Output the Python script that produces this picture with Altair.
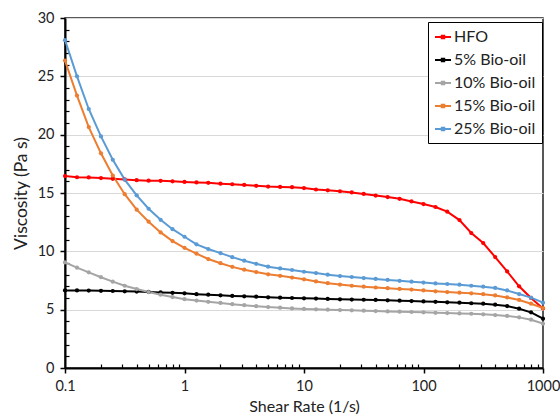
import altair as alt
import pandas as pd

shear_rate = [0.1, 0.126, 0.158, 0.2, 0.251, 0.316, 0.398, 0.501, 0.631, 0.794,
              1, 1.26, 1.58, 2, 2.51, 3.16, 3.98, 5.01, 6.31, 7.94,
              10, 12.6, 15.8, 20, 25.1, 31.6, 39.8, 50.1, 63.1, 79.4,
              100, 126, 158, 200, 251, 316, 398, 501, 631, 794, 1000]

hfo = [16.45, 16.35, 16.33, 16.28, 16.22, 16.16, 16.10, 16.06, 16.04, 16.00,
       15.95, 15.91, 15.87, 15.80, 15.75, 15.69, 15.62, 15.55, 15.52, 15.50,
       15.42, 15.30, 15.23, 15.15, 15.05, 14.92, 14.78, 14.65, 14.50, 14.28,
       14.05, 13.80, 13.40, 12.68, 11.57, 10.71, 9.51, 8.28, 7.00, 6.00, 5.10]
bio5 = [6.65, 6.65, 6.64, 6.62, 6.60, 6.57, 6.55, 6.52, 6.48, 6.44,
        6.40, 6.33, 6.28, 6.23, 6.18, 6.14, 6.11, 6.06, 6.03, 6.00,
        5.97, 5.95, 5.92, 5.89, 5.87, 5.85, 5.83, 5.80, 5.77, 5.74,
        5.71, 5.67, 5.63, 5.60, 5.55, 5.51, 5.43, 5.31, 5.08, 4.77, 4.23]
bio10 = [9.05, 8.60, 8.20, 7.78, 7.40, 7.05, 6.77, 6.51, 6.28, 6.08,
         5.90, 5.78, 5.67, 5.58, 5.47, 5.38, 5.30, 5.22, 5.17, 5.11,
         5.06, 5.03, 5.00, 4.97, 4.94, 4.91, 4.88, 4.85, 4.83, 4.80,
         4.77, 4.73, 4.71, 4.68, 4.65, 4.60, 4.54, 4.46, 4.34, 4.14, 3.80]
bio15 = [26.35, 23.35, 20.65, 18.40, 16.50, 14.90, 13.57, 12.54, 11.62, 10.88,
         10.30, 9.80, 9.34, 8.98, 8.67, 8.43, 8.22, 8.03, 7.90, 7.75,
         7.60, 7.42, 7.27, 7.15, 7.05, 6.97, 6.90, 6.84, 6.78, 6.72,
         6.65, 6.57, 6.51, 6.46, 6.40, 6.33, 6.22, 6.05, 5.83, 5.51, 5.14]
bio25 = [28.10, 25.00, 22.20, 19.85, 17.85, 16.15, 14.80, 13.65, 12.70, 11.90,
         11.25, 10.60, 10.20, 9.85, 9.50, 9.20, 8.93, 8.68, 8.53, 8.40,
         8.25, 8.14, 8.00, 7.88, 7.80, 7.71, 7.63, 7.55, 7.47, 7.40,
         7.32, 7.25, 7.20, 7.14, 7.05, 6.97, 6.86, 6.65, 6.34, 6.03, 5.60]

series_names = ["HFO", "5% Bio-oil", "10% Bio-oil", "15% Bio-oil", "25% Bio-oil"]
series_colors = ["#FF0000", "#000000", "#A5A5A5", "#ED7D31", "#5B9BD5"]
series_values = [hfo, bio5, bio10, bio15, bio25]

x_major = [0.1, 1, 10, 100, 1000]
x_minor = [m * 10 ** e for e in range(-1, 3) for m in range(2, 10)]
y_major = [0, 5, 10, 15, 20, 25, 30]
y_minor = [v for v in range(0, 31) if v % 5 != 0]

rows = []
for name, vals in zip(series_names, series_values):
    for xv, yv in zip(shear_rate, vals):
        rows.append({"rate": xv, "visc": yv, "series": name})
df = pd.DataFrame(rows)

FONT = "Lato"
color_scale = alt.Scale(domain=series_names, range=series_colors)
x_scale = alt.Scale(type="log", domain=[0.1, 1000], nice=False)
y_scale = alt.Scale(domain=[0, 30], nice=False)

base = alt.Chart(df)

lines = base.mark_line(strokeWidth=2, clip=True).encode(
    x=alt.X("rate:Q", scale=x_scale,
            axis=alt.Axis(values=x_major, format="~g", title="Shear Rate (1/s)",
                          orient="bottom", grid=False, tickSize=5, tickColor="black",
                          tickWidth=1.5, domainColor="black", domainWidth=2,
                          labelFontSize=14.5, labelFont=FONT, labelColor="#222",
                          labelPadding=6, labelOverlap=False, labelBound=False,
                          labelFlush=False,
                          titleFontSize=16, titleFont=FONT, titleFontWeight="normal",
                          titleColor="#222", titlePadding=6)),
    y=alt.Y("visc:Q", scale=y_scale,
            axis=alt.Axis(values=y_major, title="Viscosity (Pa s)", orient="left",
                          grid=True, gridColor="#D9D9D9", gridWidth=1,
                          tickSize=5, tickColor="black", tickWidth=1.5,
                          domainColor="black", domainWidth=2,
                          labelFontSize=14.5, labelFont=FONT, labelColor="#222",
                          labelPadding=6,
                          titleFontSize=17.5, titleFont=FONT, titleFontWeight="normal",
                          titleColor="#222", titlePadding=7)),
    color=alt.Color("series:N", scale=color_scale,
                    legend=alt.Legend(title=None, orient="none", legendX=363, legendY=4,
                                      symbolType="M-1,0H1M-0.15,-0.15H0.15V0.15H-0.15Z",
                                      symbolSize=256, symbolStrokeWidth=2,
                                      labelFontSize=16, labelFont=FONT, labelColor="#222",
                                      strokeColor="black", fillColor="white",
                                      padding=6, rowPadding=6, labelOffset=2,
                                      cornerRadius=0)),
    order=alt.Order("rate:Q"),
)

points = base.mark_point(filled=True, size=18, shape="circle", opacity=1).encode(
    x=alt.X("rate:Q", scale=x_scale, axis=None),
    y=alt.Y("visc:Q", scale=y_scale, axis=None),
    color=alt.Color("series:N", scale=color_scale, legend=None),
)

minor = base.mark_point(opacity=0).encode(
    x=alt.X("rate:Q", scale=x_scale,
            axis=alt.Axis(values=x_minor, labels=False, domain=False, grid=False,
                          title=None, orient="bottom", tickSize=4, offset=-4,
                          tickColor="black", tickWidth=1.2)),
    y=alt.Y("visc:Q", scale=y_scale,
            axis=alt.Axis(values=y_minor, labels=False, domain=False, grid=False,
                          title=None, orient="left", tickSize=4, offset=-4,
                          tickColor="black", tickWidth=1.2)),
)

chart = alt.layer(minor, lines, points).resolve_axis(
    x="independent", y="independent"
).properties(
    width=478, height=350,
    autosize=alt.AutoSizeParams(type="none"),
    padding={"left": 65, "top": 18, "right": 17, "bottom": 50},
).configure_view(stroke="#222", strokeWidth=1.5)

chart.save("out.html", embed_options={"renderer": "svg", "actions": False})
